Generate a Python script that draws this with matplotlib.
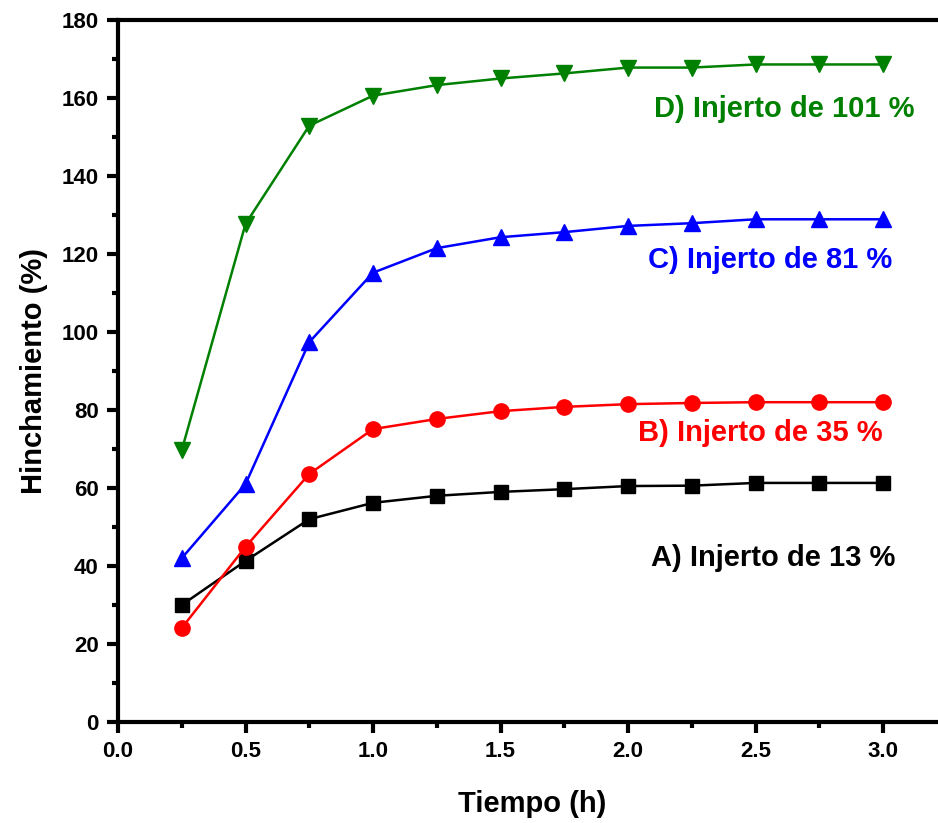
import numpy as np
import matplotlib
matplotlib.use('Agg')
import matplotlib.pyplot as plt
from matplotlib.ticker import MultipleLocator


# swelling (%) vs time (h) for each graft level
tiempo = [0.25, 0.5, 0.75, 1.0, 1.25, 1.5, 1.75, 2.0, 2.25, 2.5, 2.75, 3.0]
injerto_13 = [30.0, 41.3, 52.0, 56.2, 58.0, 59.0, 59.7, 60.5, 60.6, 61.3, 61.3, 61.3]
injerto_35 = [24.1, 44.9, 63.6, 75.1, 77.7, 79.7, 80.8, 81.5, 81.8, 82.0, 82.0, 82.0]
injerto_81 = [42.0, 61.0, 97.4, 115.2, 121.5, 124.3, 125.6, 127.2, 127.9, 128.9, 128.9, 128.9]
injerto_101 = [69.7, 127.7, 152.9, 160.6, 163.3, 165.0, 166.3, 167.8, 167.8, 168.6, 168.6, 168.6]

etiquetas = ['A) Injerto de 13 %', 'B) Injerto de 35 %',
             'C) Injerto de 81 %', 'D) Injerto de 101 %']
etiqueta_pos = [(2.09, 42.0), (2.04, 74.0), (2.08, 118.5), (2.10, 157.3)]

plt.rcParams['font.family'] = ['Liberation Sans', 'DejaVu Sans']
plt.rcParams['font.weight'] = 'bold'

fig = plt.figure(figsize=(9.38, 8.23), dpi=100)
ax = fig.add_axes([118 / 938, 101 / 823, 3.25 * 255 / 938, 702 / 823])

series = [
    (injerto_13, 'black', 's', 10),
    (injerto_35, 'red', 'o', 11),
    (injerto_81, 'blue', '^', 12),
    (injerto_101, 'green', 'v', 12),
]
for (y, c, m, ms), txt, (tx, ty) in zip(series, etiquetas, etiqueta_pos):
    ax.plot(tiempo, y, color=c, marker=m, markersize=ms, linewidth=1.8)
    ax.text(tx, ty, txt, color=c, fontsize=21, fontweight='bold',
            ha='left', va='center')

ax.set_xlim(0, 3.25)
ax.set_ylim(0, 180)
ax.xaxis.set_major_locator(MultipleLocator(0.5))
ax.xaxis.set_minor_locator(MultipleLocator(0.25))
ax.yaxis.set_major_locator(MultipleLocator(20))
ax.yaxis.set_minor_locator(MultipleLocator(10))

for s in ax.spines.values():
    s.set_linewidth(3)
ax.tick_params(which='major', length=8, width=3, labelsize=16, pad=6)
ax.tick_params(which='minor', length=4, width=3)
for lab in ax.get_xticklabels() + ax.get_yticklabels():
    lab.set_fontweight('bold')

ax.set_xlabel('Tiempo (h)', fontsize=21, fontweight='bold', labelpad=20)
ax.set_ylabel('Hinchamiento (%)', fontsize=21, fontweight='bold', labelpad=10)

fig.savefig('out.png', dpi=100)
